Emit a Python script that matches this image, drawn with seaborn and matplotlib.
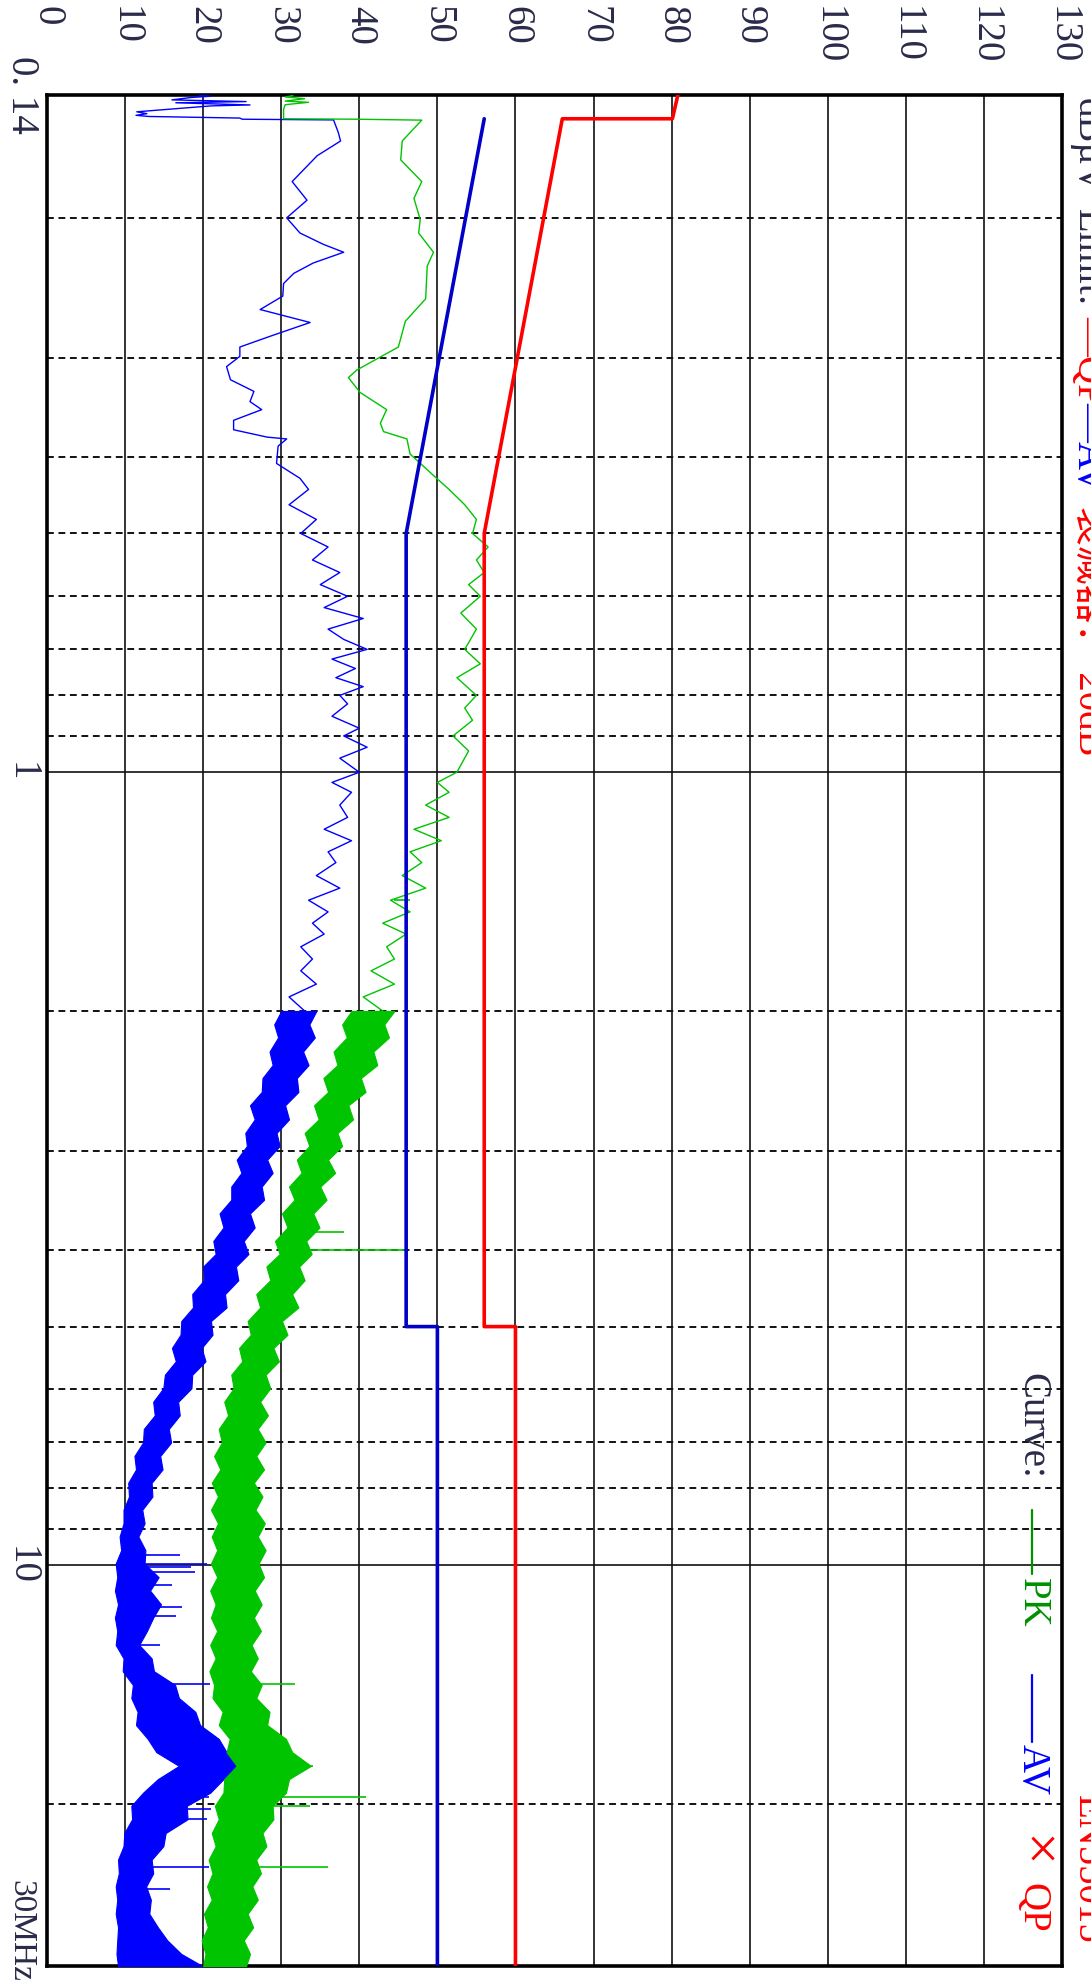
import numpy as np
import matplotlib
matplotlib.use("Agg")
import matplotlib.pyplot as plt
from matplotlib.lines import Line2D
from matplotlib.ticker import NullLocator
from matplotlib.transforms import blended_transform_factory
import seaborn as sns

# EN55015 limit lines
qp_freq = [0.14, 0.15, 0.15, 0.5, 5.0, 5.0, 32.0]
qp_db = [80.8, 80.1, 66.0, 56.0, 56.0, 60.0, 60.0]
avl_freq = [0.15, 0.5, 5.0, 5.0, 32.0]
avl_db = [56.0, 46.0, 46.0, 50.0, 50.0]

# AV trace, 0.14 - 2 MHz
av_freq = [0.1402, 0.1405, 0.1410, 0.1420, 0.1427, 0.1432, 0.1441, 0.1445, 0.1470, 0.1478,
           0.1485, 0.1490, 0.1497, 0.1502, 0.1505, 0.156, 0.160, 0.167, 0.180, 0.190,
           0.200, 0.209, 0.216, 0.221, 0.228, 0.235, 0.242, 0.251, 0.261, 0.265,
           0.271, 0.282, 0.291, 0.299, 0.308, 0.320, 0.331, 0.341, 0.349, 0.360,
           0.370, 0.378, 0.380, 0.388, 0.408, 0.426, 0.44, 0.46, 0.48, 0.50,
           0.52, 0.54, 0.56, 0.58, 0.60, 0.62, 0.64, 0.66, 0.68, 0.70,
           0.72, 0.74, 0.76, 0.78, 0.80, 0.82, 0.85, 0.88, 0.90, 0.93,
           0.96, 1.00, 1.03, 1.06, 1.10, 1.14, 1.18, 1.22, 1.26, 1.30,
           1.35, 1.40, 1.45, 1.50, 1.55, 1.60, 1.66, 1.72, 1.78, 1.85,
           1.92, 2.00]
av_db = [19.5, 21.0, 18.5, 16.0, 25.5, 16.5, 26.0, 21.0, 11.5, 12.8,
         11.4, 13.0, 24.7, 25.0, 36.7, 37.3, 37.6, 34.6, 31.4, 33.3,
         30.7, 32.4, 35.4, 38.0, 34.1, 31.6, 30.3, 30.2, 27.3, 29.9,
         33.7, 28.6, 24.7, 24.7, 23.0, 23.5, 26.5, 26.0, 27.5, 23.9,
         23.9, 28.2, 30.7, 29.6, 29.4, 32.4, 33.5, 31.0, 34.5, 32.5,
         36.0, 34.0, 37.5, 35.0, 38.5, 35.5, 40.5, 36.0, 38.0, 41.0,
         36.5, 39.5, 37.0, 40.5, 37.5, 38.5, 36.5, 40.0, 38.0, 41.0,
         37.5, 40.0, 36.5, 39.0, 37.5, 38.5, 35.5, 39.0, 36.0, 37.0,
         34.5, 37.5, 33.5, 36.0, 34.0, 35.5, 32.5, 34.0, 32.5, 34.5,
         31.0, 33.0]

# PK trace, 0.14 - 2 MHz
pk_freq = [0.1402, 0.1408, 0.1415, 0.1425, 0.1430, 0.1440, 0.1460, 0.1490, 0.1500, 0.1502,
           0.1506, 0.160, 0.169, 0.180, 0.189, 0.201, 0.209, 0.221, 0.230, 0.253,
           0.270, 0.291, 0.311, 0.318, 0.332, 0.349, 0.363, 0.372, 0.380, 0.397,
           0.426, 0.44, 0.46, 0.48, 0.50, 0.52, 0.54, 0.56, 0.58, 0.60,
           0.63, 0.66, 0.70, 0.73, 0.76, 0.80, 0.83, 0.86, 0.90, 0.94,
           1.00, 1.03, 1.06, 1.10, 1.14, 1.18, 1.22, 1.26, 1.30, 1.35,
           1.40, 1.45, 1.50, 1.55, 1.60, 1.66, 1.72, 1.78, 1.85, 1.92,
           2.00]
pk_db = [31.5, 30.5, 33.0, 30.5, 33.5, 30.5, 30.3, 30.3, 30.3, 39.7,
         48.0, 45.5, 45.3, 48.0, 47.0, 47.8, 47.6, 49.5, 48.7, 48.5,
         45.9, 45.0, 39.7, 38.6, 40.1, 43.5, 42.7, 43.1, 46.1, 46.5,
         49.9, 51.5, 53.5, 55.0, 54.5, 56.5, 55.0, 56.0, 54.0, 55.5,
         53.0, 55.0, 53.5, 55.5, 52.5, 55.0, 53.5, 54.5, 52.0, 54.0,
         52.5, 50.0, 51.5, 48.5, 51.5, 47.0, 50.5, 46.5, 48.0, 45.5,
         48.5, 44.0, 46.5, 43.0, 46.0, 43.5, 44.5, 41.5, 44.5, 40.5,
         43.0]

# dense noise above 2 MHz, kept as low / high envelope of each trace
band_freq = [2.0, 2.08, 2.16, 2.25, 2.34, 2.43, 2.53, 2.63, 2.74, 2.85,
             2.96, 3.08, 3.2, 3.33, 3.46, 3.6, 3.75, 3.9, 4.05, 4.2,
             4.37, 4.55, 4.73, 4.92, 5.12, 5.32, 5.53, 5.75, 5.98, 6.22,
             6.47, 6.73, 7.0, 7.28, 7.57, 7.87, 8.19, 8.51, 8.85, 9.2,
             9.57, 9.95, 10.35, 10.76, 11.2, 11.64, 12.1, 12.6, 13.1, 13.6,
             14.15, 14.7, 15.3, 15.9, 16.55, 17.2, 17.9, 18.6, 19.35, 20.1,
             20.9, 21.75, 22.6, 23.5, 24.45, 25.4, 26.4, 27.5, 28.6, 29.7,
             30.9, 32.0]
av_lo = [30.0, 29.1, 29.6, 28.5, 28.9, 27.6, 27.5, 26.0, 26.6, 25.4,
         25.6, 24.3, 24.9, 23.6, 23.6, 22.1, 22.6, 21.3, 21.6, 20.0,
         20.1, 18.6, 18.7, 17.2, 17.1, 16.0, 16.5, 15.1, 14.9, 13.6,
         13.8, 12.4, 12.3, 11.2, 11.4, 10.4, 10.5, 9.8, 9.8, 9.3,
         9.5, 8.8, 9.0, 8.7, 9.1, 8.7, 9.0, 8.8, 9.8, 9.7,
         11.0, 10.8, 11.6, 11.4, 12.9, 14.0, 16.9, 14.2, 12.3, 10.8,
         10.9, 9.9, 9.8, 9.1, 9.2, 8.8, 9.0, 8.8, 9.1, 9.0,
         8.9, 9.1]
av_hi = [34.5, 33.6, 34.3, 32.8, 33.5, 32.0, 32.2, 30.5, 31.0, 29.4,
         29.8, 28.2, 28.9, 27.5, 27.8, 26.0, 26.6, 25.2, 25.8, 24.2,
         24.5, 22.8, 23.0, 21.0, 21.2, 19.8, 20.3, 18.6, 18.5, 16.8,
         17.0, 15.6, 15.9, 14.5, 14.8, 13.4, 13.5, 12.2, 12.5, 11.7,
         12.6, 12.5, 14.3, 13.2, 14.6, 13.6, 12.8, 11.8, 13.4, 13.7,
         16.4, 16.9, 19.0, 19.6, 22.0, 23.0, 24.8, 22.6, 20.9, 17.9,
         18.0, 15.2, 14.9, 13.4, 13.6, 12.7, 13.3, 13.1, 14.2, 15.4,
         17.2, 19.9]
pk_lo = [39.0, 37.8, 38.4, 36.7, 37.2, 35.4, 36.0, 34.2, 34.8, 33.0,
         33.6, 32.0, 32.6, 31.0, 31.7, 30.1, 30.8, 29.2, 29.8, 28.1,
         28.6, 26.8, 27.3, 25.7, 26.1, 24.6, 25.0, 23.6, 23.9, 22.7,
         23.2, 22.0, 22.4, 21.4, 22.2, 21.1, 21.9, 21.0, 21.9, 21.1,
         21.8, 21.0, 21.8, 20.9, 21.6, 21.0, 21.8, 20.9, 21.6, 20.8,
         21.4, 21.2, 22.5, 22.0, 23.4, 23.0, 24.3, 22.7, 22.6, 21.5,
         22.0, 21.1, 21.6, 20.7, 21.2, 20.5, 21.1, 20.1, 20.6, 19.8,
         20.3, 20.0]
pk_hi = [44.5, 43.2, 43.8, 41.8, 42.3, 40.2, 40.8, 38.6, 39.2, 37.2,
         37.8, 36.0, 36.9, 35.0, 35.8, 34.1, 34.9, 33.2, 33.9, 32.3,
         33.0, 31.4, 32.2, 30.1, 30.8, 29.0, 29.7, 28.0, 28.6, 27.3,
         28.3, 27.0, 28.0, 26.8, 27.8, 26.5, 27.6, 26.7, 27.9, 27.0,
         28.0, 27.1, 27.8, 26.6, 27.5, 26.5, 27.4, 26.2, 27.0, 26.1,
         27.5, 26.8, 28.5, 28.2, 30.6, 31.4, 33.8, 31.0, 30.6, 28.9,
         29.0, 27.6, 28.1, 26.8, 27.4, 26.3, 27.0, 25.7, 26.4, 25.2,
         26.0, 25.5]

# single spikes sticking out of the noise
av_spike_freq = [9.7, 9.95, 10.05, 10.2, 10.6, 11.3, 11.6, 12.6, 14.1, 19.6, 20.3, 20.9, 24.0, 25.6]
av_spike_db = [17.0, 20.5, 18.5, 19.0, 16.0, 17.3, 16.5, 14.5, 20.9, 20.7, 21.0, 20.5, 20.7, 15.8]
pk_spike_freq = [1.45, 3.8, 4.0, 14.1, 17.9, 19.6, 20.1, 24.0]
pk_spike_db = [46.5, 38.0, 46.0, 31.8, 34.1, 40.9, 33.7, 36.0]

db_ticks = [0, 10, 20, 30, 40, 50, 60, 70, 80, 90, 100, 110, 120, 130]
freq_ticks = [0.14, 1, 10]
freq_labels = ["0. 14", "1", "10"]
solid_freq = [1, 10]
dash_freq = [0.2, 0.3, 0.4, 0.5, 0.6, 0.7, 0.8, 0.9, 2, 3, 4, 5, 6, 7, 8, 9, 20]

sns.set_theme(style="white")
plt.rcParams['font.family'] = ['Liberation Serif', 'Noto Sans CJK SC', 'DejaVu Sans']

W, H = 1091, 1982
fig = plt.figure(figsize=(W / 100, H / 100), dpi=100)
ax = fig.add_axes([47 / W, (H - 1966) / H, (1062 - 47) / W, (1966 - 95) / H])
ax.set_yscale('log')

pk_col = '#00c400'
av_col = '#0000ff'

# measured traces
sns.lineplot(x=av_db, y=av_freq, sort=False, estimator=None, orient='y', color=av_col, lw=1.0, ax=ax, zorder=3)
sns.lineplot(x=pk_db, y=pk_freq, sort=False, estimator=None, orient='y', color=pk_col, lw=1.0, ax=ax, zorder=3)
ax.fill_betweenx(band_freq, av_lo, av_hi, color=av_col, lw=0.8, zorder=3)
ax.fill_betweenx(band_freq, pk_lo, pk_hi, color=pk_col, lw=0.8, zorder=3)
lf = np.log10(band_freq)
ax.hlines(av_spike_freq, np.interp(np.log10(av_spike_freq), lf, av_hi), av_spike_db,
          color=av_col, lw=1.2, zorder=3)
ax.hlines(pk_spike_freq, np.interp(np.log10(pk_spike_freq), lf, pk_hi), pk_spike_db,
          color=pk_col, lw=1.2, zorder=3)

# limits
sns.lineplot(x=qp_db, y=qp_freq, sort=False, estimator=None, orient='y', color='#ff0000', lw=2.6, ax=ax, zorder=5)
sns.lineplot(x=avl_db, y=avl_freq, sort=False, estimator=None, orient='y', color='#0000c8', lw=2.6, ax=ax, zorder=5)

# grid
for v in db_ticks[1:-1]:
    ax.axvline(v, color='#111111', lw=1.2, zorder=1)
for f in solid_freq:
    ax.axhline(f, color='#111111', lw=1.2, zorder=1)
for f in dash_freq:
    ax.axhline(f, color='#111111', lw=1.4, dashes=(3.5, 2.4), zorder=1)

ax.set_xlim(0, 130)
ax.set_ylim(32.0, 0.14)
ax.set_xlabel('')
ax.set_ylabel('')
ax.set_xticks([])
ax.set_yticks([])
ax.yaxis.set_minor_locator(NullLocator())
for s in ax.spines.values():
    s.set_color('black')
    s.set_linewidth(2.6)

lab_col = '#2a2a4a'
fs = 28
top = blended_transform_factory(ax.transData, fig.transFigure)
for v in db_ticks:
    ax.text(v, 1 - 6 / H, str(v), transform=top, rotation=-90, ha='center', va='top',
            fontsize=fs, color=lab_col)
left = blended_transform_factory(fig.transFigure, ax.transData)
for f, lab in zip(freq_ticks, freq_labels):
    ax.text(21 / W, f, lab, transform=left, rotation=-90, ha='center', va='center',
            fontsize=fs, color=lab_col)
fig.text(21 / W, 1 - 1880 / H, "30MHz", rotation=-90, ha='center', va='top',
         fontsize=24, color=lab_col)

# header, cut off at the right edge
head = [("dBµV", 98, lab_col), ("Limit:", 209, lab_col), ("—QP", 316, '#ff0000'),
        ("—AV", 402, '#0000ff'), ("衰减器： 20dB", 506, '#ff0000'),
        ("EN55015", 1795, '#ff0000')]
for s, y, c in head:
    fig.text(1069 / W, 1 - y / H, s, rotation=-90, ha='left', va='top', fontsize=fs, color=c)

# curve legend inside the plot
fig.text(1032 / W, 1 - 1373 / H, "Curve:", rotation=-90, ha='center', va='top', fontsize=fs, color=lab_col)
fig.add_artist(Line2D([1032 / W, 1032 / W], [1 - 1510 / H, 1 - 1574 / H], color='#009000', lw=1.6))
fig.text(1032 / W, 1 - 1578 / H, "PK", rotation=-90, ha='center', va='top', fontsize=fs, color='#009000')
fig.add_artist(Line2D([1032 / W, 1032 / W], [1 - 1675 / H, 1 - 1742 / H], color='#0000ff', lw=1.6))
fig.text(1032 / W, 1 - 1744 / H, "AV", rotation=-90, ha='center', va='top', fontsize=fs, color='#0000ff')
fig.text(1032 / W, 1 - 1835 / H, "×", rotation=-90, ha='center', va='top', fontsize=42, color='#ff0000')
fig.text(1032 / W, 1 - 1883 / H, "QP", rotation=-90, ha='center', va='top', fontsize=fs, color='#ff0000')

fig.savefig('out.png', dpi=100)
